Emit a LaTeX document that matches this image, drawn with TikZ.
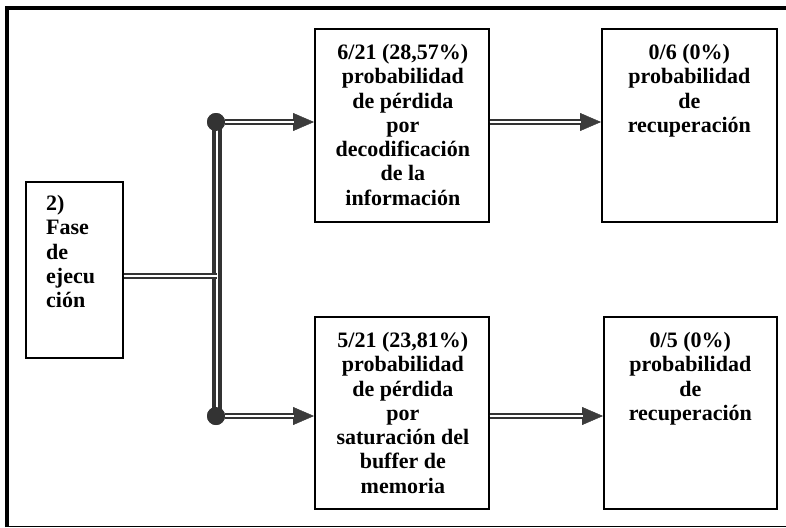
\documentclass[tikz,border=0pt]{standalone}
\usepackage{fontspec}
\setmainfont{Liberation Serif}
\usetikzlibrary{arrows.meta}

\definecolor{wire}{HTML}{333333}
\definecolor{tipgray}{HTML}{3C3C3C}

\tikzset{
  box/.style={draw=black, line width=1.7pt, rectangle, inner sep=0pt, anchor=north west},
  label/.style={inner sep=0pt, font=\fontsize{22}{24.3}\selectfont\bfseries},
  dot/.style={circle, fill=wire, draw=none, minimum size=18pt, inner sep=0pt},
  link/.style={draw=wire, line width=2.5pt, double=white, double distance=1.8pt},
  bus/.style={draw=wire, line width=4.2pt, double=white, double distance=2pt},
  tipline/.style={draw=tipgray, line width=0.4pt,
    -{Triangle[length=21pt, width=18pt, fill=tipgray]}},
}

\begin{document}
\begin{tikzpicture}[x=1pt, y=-1pt]
  \useasboundingbox (0,0) rectangle (786,527);

  % frame around the figure
  \draw[line width=3.5pt] (7,527) -- (7,8) -- (786,8);
  \draw[line width=1pt] (7,526) -- (786,526);

  % stage box
  \node[box, minimum width=97pt, minimum height=176pt] (b0) at (25,181) {};
  \node[label, align=left, anchor=north west] (t0)
    at ([xshift=21pt, yshift=-14pt]b0.north west)
    {2)\\Fase\\de\\ejecu\\ción};

  % loss boxes
  \node[box, minimum width=174pt, minimum height=193pt] (b1) at (314,28) {};
  \node[label, align=center, anchor=north] (t1) at ([xshift=1pt, yshift=-16pt]b1.north)
    {6/21 (28,57\%)\\probabilidad\\de pérdida\\por\\decodificación\\de la\\información};

  \node[box, minimum width=174pt, minimum height=192pt] (b2) at (314,316) {};
  \node[label, align=center, anchor=north] (t2) at ([xshift=1pt, yshift=-16pt]b2.north)
    {5/21 (23,81\%)\\probabilidad\\de pérdida\\por\\saturación del\\buffer de\\memoria};

  % recovery boxes
  \node[box, minimum width=175pt, minimum height=193pt] (b3) at (601,28) {};
  \node[label, align=center, anchor=north] (t3) at ([yshift=-16pt]b3.north)
    {0/6 (0\%)\\probabilidad\\de\\recuperación};

  \node[box, minimum width=173pt, minimum height=192pt] (b4) at (603,316) {};
  \node[label, align=center, anchor=north] (t4) at ([yshift=-16pt]b4.north)
    {0/5 (0\%)\\probabilidad\\de\\recuperación};

  % branching points
  \node[dot] (d1) at (216,122) {};
  \node[dot] (d2) at (216,416) {};
  \coordinate (j) at (217,276);

  % bus and feed from the stage box
  \draw[bus] (d1.center -| j) -- (d2.center -| j);
  \draw[link] (b0.east |- j) -- (j);

  % arrows: tip first, doubled shaft over it
  \draw[tipline] (d1) -- (d1 -| b1.west);
  \draw[link, shorten >=20pt] (d1) -- (d1 -| b1.west);
  \draw[tipline] (d2) -- (d2 -| b2.west);
  \draw[link, shorten >=20pt] (d2) -- (d2 -| b2.west);

  \draw[tipline] (b1.east |- d1) -- (b3.west |- d1);
  \draw[link, shorten >=20pt] (b1.east |- d1) -- (b3.west |- d1);
  \draw[tipline] (b2.east |- d2) -- (b4.west |- d2);
  \draw[link, shorten >=20pt] (b2.east |- d2) -- (b4.west |- d2);

  % redraw dots above the shafts
  \node[dot] at (d1) {};
  \node[dot] at (d2) {};
\end{tikzpicture}
\end{document}
